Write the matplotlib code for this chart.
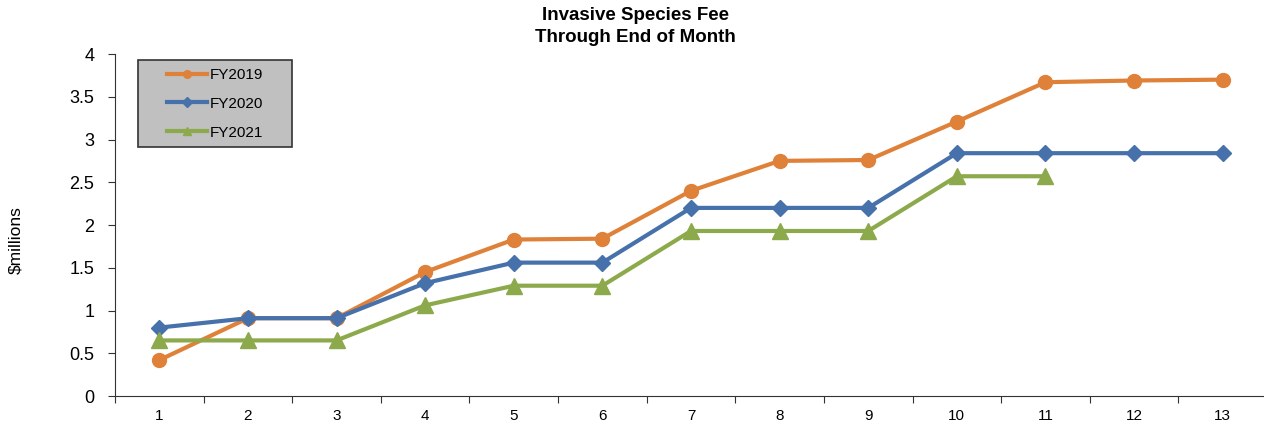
import matplotlib.pyplot as plt
from matplotlib.patches import Rectangle
from matplotlib.ticker import FixedLocator, NullFormatter

plt.rcParams['font.family'] = ['Liberation Sans', 'DejaVu Sans']

months = list(range(1, 14))
fy2019 = [0.42, 0.91, 0.91, 1.45, 1.83, 1.84, 2.40, 2.75, 2.76, 3.21, 3.67, 3.69, 3.70]
fy2020 = [0.80, 0.91, 0.91, 1.32, 1.56, 1.56, 2.20, 2.20, 2.20, 2.84, 2.84, 2.84, 2.84]
fy2021 = [0.65, 0.65, 0.65, 1.06, 1.29, 1.29, 1.93, 1.93, 1.93, 2.57, 2.57]

W, H = 1264, 423
fig = plt.figure(figsize=(W / 100, H / 100), dpi=100)
ax = fig.add_axes([115 / W, 27 / H, 1152 / W, 342 / H])

ax.plot(months, fy2019, color='#DF8139', lw=3, marker='o', ms=10, label='FY2019', zorder=3)
ax.plot(months, fy2020, color='#4671AA', lw=3, marker='D', ms=8.5, label='FY2020', zorder=4)
ax.plot(months[:len(fy2021)], fy2021, color='#8CAA4B', lw=3, marker='^', ms=11, label='FY2021', zorder=5)

ax.set_xlim(0.5, 13.5)
ax.set_ylim(0, 4)
ax.set_yticks([0, 0.5, 1, 1.5, 2, 2.5, 3, 3.5, 4])
ax.set_yticklabels(['0', '0.5', '1', '1.5', '2', '2.5', '3', '3.5', '4'])

# ticks between categories, labels at the centres
ax.xaxis.set_major_locator(FixedLocator([m + 0.5 for m in [0] + months]))
ax.xaxis.set_major_formatter(NullFormatter())
ax.xaxis.set_minor_locator(FixedLocator(months))
ax.set_xticklabels([str(m) for m in months], minor=True)
ax.tick_params(axis='x', which='major', length=5, direction='out', color='#333333')
ax.tick_params(axis='x', which='minor', length=0, pad=9, labelsize=11)
ax.tick_params(axis='y', length=5, direction='out', color='#333333', labelsize=13, pad=10)

for s in ['top', 'right']:
    ax.spines[s].set_visible(False)
for s in ['left', 'bottom']:
    ax.spines[s].set_color('#333333')

ax.set_ylabel('$millions', fontsize=12.5)
ax.yaxis.set_label_coords(-0.080, 0.455)

fig.text(635 / W, 1 - 15 / H, 'Invasive Species Fee', ha='center', va='center',
         fontsize=13.5, fontweight='bold')
fig.text(635 / W, 1 - 38 / H, 'Through End of Month', ha='center', va='center',
         fontsize=13.5, fontweight='bold')

# legend box drawn by hand so its size matches
box = Rectangle((138 / W, 1 - 147 / H), 154 / W, 87 / H, transform=fig.transFigure,
                facecolor='#C0C0C0', edgecolor='#333333', lw=1.2, zorder=6, clip_on=False)
ax.add_patch(box)
leg = ax.legend(loc='upper left', bbox_to_anchor=(167 / W, 1 - 68 / H), bbox_transform=fig.transFigure,
                frameon=False, markerscale=0.55, fontsize=11, handlelength=2.6, handletextpad=0.2,
                labelspacing=0.97, borderpad=0, borderaxespad=0)
leg.set_zorder(7)

plt.savefig('out.png', dpi=100)
